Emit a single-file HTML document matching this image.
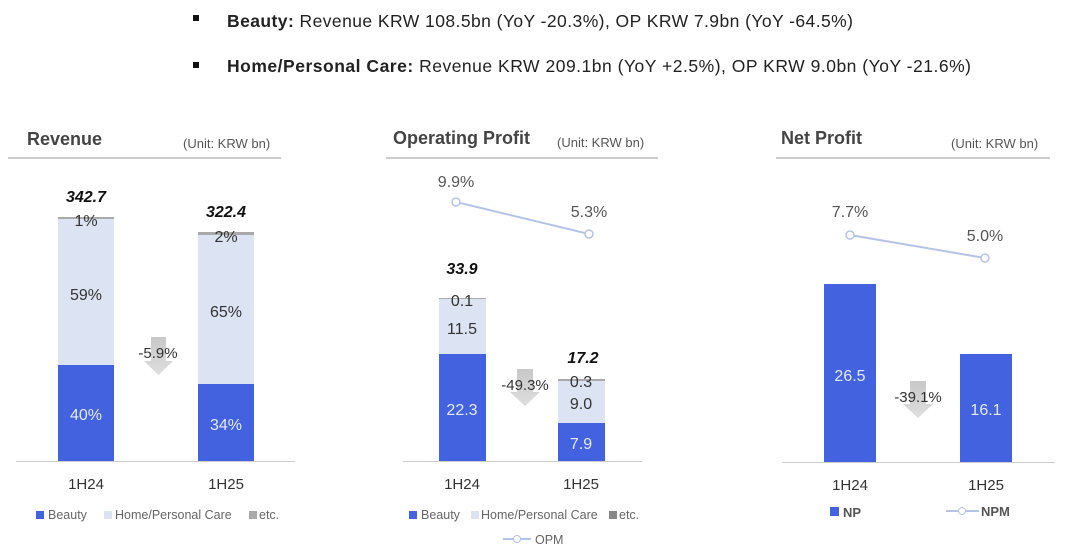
<!DOCTYPE html>
<html><head><meta charset="utf-8"><style>
body{margin:0;background:#fff;width:1080px;height:552px;overflow:hidden}
svg text{font-family:"Liberation Sans",sans-serif}
</style></head><body>
<svg width="1080" height="552" viewBox="0 0 1080 552" xmlns="http://www.w3.org/2000/svg">
<defs>
<linearGradient id="ag" x1="0" y1="0" x2="0" y2="1"><stop offset="0" stop-color="#c8c8c8"/><stop offset="1" stop-color="#dedede"/></linearGradient>
</defs>
<!-- top bullets -->
<rect x="193" y="15" width="6" height="6" fill="#111"/>
<text x="227" y="27" font-size="17.5" fill="#222" textLength="626" lengthAdjust="spacing"><tspan font-weight="bold">Beauty:</tspan> Revenue KRW 108.5bn (YoY -20.3%), OP KRW 7.9bn (YoY -64.5%)</text>
<rect x="193" y="62" width="6" height="6" fill="#111"/>
<text x="227" y="72" font-size="17.5" fill="#222" textLength="744" lengthAdjust="spacing"><tspan font-weight="bold">Home/Personal Care:</tspan> Revenue KRW 209.1bn (YoY +2.5%), OP KRW 9.0bn (YoY -21.6%)</text>

<!-- Revenue -->
<text x="27" y="145" font-size="18" font-weight="bold" fill="#444">Revenue</text>
<text x="183" y="148" font-size="13" fill="#555">(Unit: KRW bn)</text>
<line x1="8" y1="158" x2="281" y2="158" stroke="#bbb" stroke-width="1.5"/>
<rect x="58" y="218" width="56" height="147" fill="#dce3f2"/>
<rect x="58" y="217" width="56" height="2" fill="#aaa"/>
<rect x="58" y="365" width="56" height="96" fill="#4262e0"/>
<rect x="198" y="232" width="56" height="152" fill="#dce3f2"/>
<rect x="198" y="232" width="56" height="3" fill="#aaa"/>
<rect x="198" y="384" width="56" height="77" fill="#4262e0"/>
<line x1="16" y1="461.5" x2="295" y2="461.5" stroke="#ccc" stroke-width="1"/>
<g font-size="16" fill="#333" text-anchor="middle">
<text x="86" y="202" font-weight="bold" font-style="italic" fill="#111">342.7</text>
<text x="226" y="217" font-weight="bold" font-style="italic" fill="#111">322.4</text>
<text x="86" y="226">1%</text><text x="86" y="300">59%</text><text x="86" y="420" fill="#e6ebff">40%</text>
<text x="226" y="242">2%</text><text x="226" y="317">65%</text><text x="226" y="430" fill="#e6ebff">34%</text>
<text x="86" y="489" font-size="15">1H24</text><text x="226" y="489" font-size="15">1H25</text>
</g>
<path d="M151,337 H166 V361 H173 L158.5,375 L144,361 H151 Z" fill="url(#ag)"/>
<text x="158" y="358" font-size="15" fill="#333" text-anchor="middle">-5.9%</text>
<g font-size="12.5" fill="#666">
<rect x="36" y="511" width="8" height="8" fill="#4262e0"/><text x="48" y="519">Beauty</text>
<rect x="104" y="511" width="8" height="8" fill="#dce3f2"/><text x="115" y="519">Home/Personal Care</text>
<rect x="249" y="511" width="8" height="8" fill="#aaa"/><text x="259" y="519">etc.</text>
</g>

<!-- Operating Profit -->
<text x="393" y="144" font-size="18" font-weight="bold" fill="#444">Operating Profit</text>
<text x="557" y="147" font-size="13" fill="#555">(Unit: KRW bn)</text>
<line x1="386" y1="158" x2="658" y2="158" stroke="#bbb" stroke-width="1.5"/>
<line x1="456" y1="202" x2="589" y2="234" stroke="#b4c4e6" stroke-width="2"/>
<circle cx="456" cy="202" r="4" fill="#fff" stroke="#b4c4e6" stroke-width="1.5"/>
<circle cx="589" cy="234" r="4" fill="#fff" stroke="#b4c4e6" stroke-width="1.5"/>
<rect x="439" y="298" width="47" height="56" fill="#dce3f2"/>
<rect x="439" y="298" width="47" height="1" fill="#aaa"/>
<rect x="439" y="354" width="47" height="107" fill="#4262e0"/>
<rect x="558" y="379" width="47" height="44" fill="#dce3f2"/>
<rect x="558" y="379" width="47" height="2" fill="#aaa"/>
<rect x="558" y="423" width="47" height="38" fill="#4262e0"/>
<line x1="403" y1="461.5" x2="642" y2="461.5" stroke="#ccc" stroke-width="1"/>
<g font-size="16" fill="#333" text-anchor="middle">
<text x="456" y="187" fill="#555">9.9%</text><text x="589" y="217" fill="#555">5.3%</text>
<text x="462" y="274" font-weight="bold" font-style="italic" fill="#111">33.9</text>
<text x="583" y="363" font-weight="bold" font-style="italic" fill="#111">17.2</text>
<text x="462" y="306">0.1</text><text x="462" y="334">11.5</text><text x="462" y="415" fill="#e6ebff">22.3</text>
<text x="581" y="387">0.3</text><text x="581" y="409">9.0</text><text x="581" y="449" fill="#e6ebff">7.9</text>
<text x="462" y="489" font-size="15">1H24</text><text x="581" y="489" font-size="15">1H25</text>
</g>
<path d="M517,369 H533 V392 H540 L525,406 L510,392 H517 Z" fill="url(#ag)"/>
<text x="525" y="390" font-size="15" fill="#333" text-anchor="middle">-49.3%</text>
<g font-size="12.5" fill="#666">
<rect x="409" y="511" width="8" height="8" fill="#4262e0"/><text x="421" y="519">Beauty</text>
<rect x="471" y="511" width="8" height="8" fill="#dce3f2"/><text x="481" y="519">Home/Personal Care</text>
<rect x="609" y="511" width="8" height="8" fill="#888"/><text x="619" y="519">etc.</text>
<line x1="503" y1="539" x2="531" y2="539" stroke="#b4c4e6" stroke-width="2"/>
<circle cx="517" cy="539" r="3.5" fill="#fff" stroke="#b4c4e6"/>
<text x="535" y="544">OPM</text>
</g>

<!-- Net Profit -->
<text x="781" y="144" font-size="18" font-weight="bold" fill="#444">Net Profit</text>
<text x="951" y="148" font-size="13" fill="#555">(Unit: KRW bn)</text>
<line x1="776" y1="158" x2="1050" y2="158" stroke="#bbb" stroke-width="1.5"/>
<line x1="850" y1="235" x2="985" y2="258" stroke="#b4c4e6" stroke-width="2"/>
<circle cx="850" cy="235" r="4" fill="#fff" stroke="#b4c4e6" stroke-width="1.5"/>
<circle cx="985" cy="258" r="4" fill="#fff" stroke="#b4c4e6" stroke-width="1.5"/>
<rect x="824" y="284" width="52" height="178" fill="#4262e0"/>
<rect x="960" y="354" width="52" height="108" fill="#4262e0"/>
<line x1="782" y1="462.5" x2="1055" y2="462.5" stroke="#ccc" stroke-width="1"/>
<g font-size="16" fill="#333" text-anchor="middle">
<text x="850" y="217" fill="#555">7.7%</text><text x="985" y="241" fill="#555">5.0%</text>
<text x="850" y="381" fill="#e6ebff">26.5</text><text x="986" y="415" fill="#e6ebff">16.1</text>
<text x="850" y="490" font-size="15">1H24</text><text x="986" y="490" font-size="15">1H25</text>
</g>
<path d="M910,381 H926 V404 H933 L918,418 L903,404 H910 Z" fill="url(#ag)"/>
<text x="918" y="402" font-size="15" fill="#333" text-anchor="middle">-39.1%</text>
<g font-size="13" fill="#555">
<rect x="830" y="507" width="9" height="9" fill="#4262e0"/><text x="843" y="517" font-weight="bold">NP</text>
<line x1="946" y1="511" x2="979" y2="511" stroke="#b4c4e6" stroke-width="2"/>
<circle cx="962" cy="511" r="3.5" fill="#fff" stroke="#b4c4e6"/>
<text x="981" y="516" font-weight="bold">NPM</text>
</g>
</svg>
</body></html>
